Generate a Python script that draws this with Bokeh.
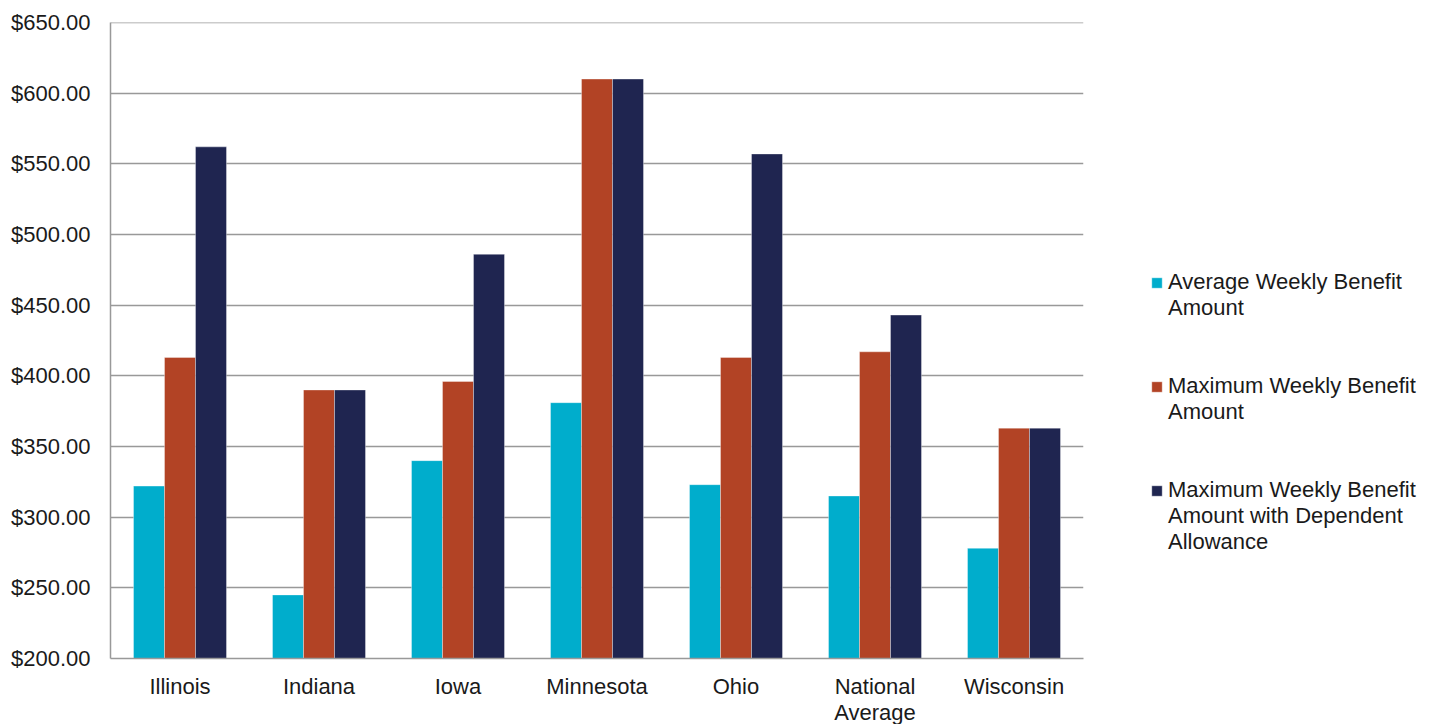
from bokeh.plotting import figure
from bokeh.models import (ColumnDataSource, FactorRange, Range1d, FixedTicker,
                          Legend, LegendItem, NumeralTickFormatter, Span)
from bokeh.transform import dodge
from bokeh.embed import file_html
from bokeh.resources import INLINE

states = ["Illinois", "Indiana", "Iowa", "Minnesota", "Ohio", "National\nAverage", "Wisconsin"]
avg_weekly = [322, 245, 340, 381, 323, 315, 278]
max_weekly = [413, 390, 396, 610, 413, 417, 363]
max_weekly_dep = [562, 390, 486, 610, 557, 443, 363]
# legend text: first line (next to the swatch) and the continuation lines
series_first = ["Average Weekly Benefit", "Maximum Weekly Benefit", "Maximum Weekly Benefit"]
series_rest = ["Amount\n \n ", "Amount\n \n ", "Amount with Dependent\nAllowance"]
colors = ["#00ADCC", "#B24325", "#1F2550"]
y_ticks = [200, 250, 300, 350, 400, 450, 500, 550, 600, 650]

FONT = "Liberation Sans"
TXT = "#1a1a1a"

src = ColumnDataSource(dict(state=states, a=avg_weekly, b=max_weekly, c=max_weekly_dep))

p = figure(x_range=FactorRange(*states), y_range=Range1d(200, 650),
           frame_width=973, frame_height=636,
           min_border_left=110, min_border_right=362, min_border_top=22, min_border_bottom=66,
           output_backend="svg", toolbar_location=None, tools="")

bw = 0.223
renderers = []
for key, off, col in zip(["a", "b", "c"], [-bw, 0, bw], colors):
    r = p.vbar(x=dodge("state", off, range=p.x_range), top=key, bottom=200, width=bw,
               source=src, fill_color=col, line_color="white", line_alpha=0.35, line_width=1)
    renderers.append(r)

# invisible renderer used for the legend's continuation lines (no swatch)
blank = p.vbar(x=[], top=[], width=0.1, fill_alpha=0, line_alpha=0)

p.outline_line_color = None
p.background_fill_color = "white"
p.border_fill_color = "white"
p.xgrid.grid_line_color = None
p.ygrid.grid_line_color = "#999999"
p.ygrid.grid_line_width = 1.5
p.add_layout(Span(location=650, dimension="width", line_color="#999999", line_width=1.5))
p.yaxis.ticker = FixedTicker(ticks=y_ticks)
p.yaxis.formatter = NumeralTickFormatter(format="$0,0.00")

for ax in (p.xaxis[0], p.yaxis[0]):
    ax.axis_line_color = "#999999"
    ax.axis_line_width = 1.5
    ax.major_tick_line_color = None
    ax.minor_tick_line_color = None
    ax.major_label_text_font = FONT
    ax.major_label_text_font_size = "22px"
    ax.major_label_text_color = TXT

p.yaxis.major_label_standoff = 14
p.xaxis.major_label_standoff = 9
p.xaxis.major_label_text_line_height = 1.05

items = []
for first, rest, r in zip(series_first, series_rest, renderers):
    items.append(LegendItem(label=first, renderers=[r]))
    items.append(LegendItem(label=rest, renderers=[blank]))

legend = Legend(items=items, location=(67, 103), orientation="vertical")
legend.label_text_font = FONT
legend.label_text_font_size = "22px"
legend.label_text_color = TXT
legend.label_height = 10
legend.glyph_width = 13
legend.glyph_height = 13
legend.label_standoff = 5
legend.spacing = 0
legend.padding = 0
legend.margin = 0
legend.border_line_color = None
legend.background_fill_color = None
p.add_layout(legend, "right")

open("out.html", "w").write(file_html(p, INLINE))
